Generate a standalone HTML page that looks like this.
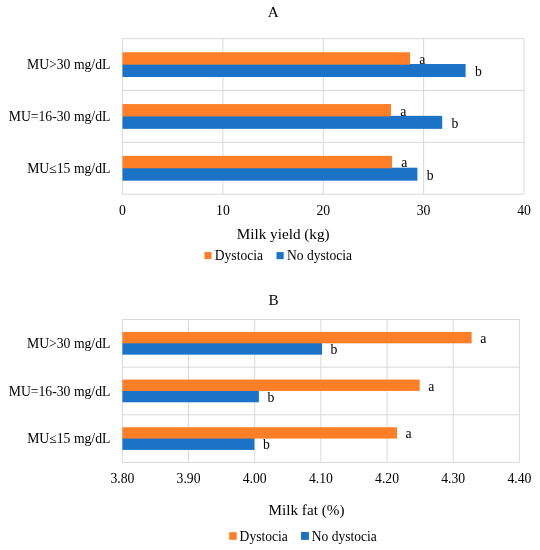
<!DOCTYPE html>
<html><head><meta charset="utf-8"><style>
html,body{margin:0;padding:0;background:#fff;width:540px;height:550px;overflow:hidden;}
svg{display:block;will-change:transform;}
text{font-family:"Liberation Serif",serif;fill:#000;font-size:13.7px;}
.lg{font-size:13.55px;}
</style></head><body>
<svg width="540" height="550" viewBox="0 0 540 550">
<rect width="540" height="550" fill="#fff"/>
<text x="273.3" y="16.9" style="font-size:15.2px" text-anchor="middle">A</text>
<line x1="222.88" y1="38.7" x2="222.88" y2="194.2" stroke="#D9D9D9" stroke-width="1"/>
<line x1="323.25" y1="38.7" x2="323.25" y2="194.2" stroke="#D9D9D9" stroke-width="1"/>
<line x1="423.62" y1="38.7" x2="423.62" y2="194.2" stroke="#D9D9D9" stroke-width="1"/>
<line x1="122.5" y1="90.53" x2="524.0" y2="90.53" stroke="#D9D9D9" stroke-width="1"/>
<line x1="122.5" y1="142.37" x2="524.0" y2="142.37" stroke="#D9D9D9" stroke-width="1"/>
<rect x="122.5" y="38.7" width="401.50" height="155.50" fill="none" stroke="#D9D9D9" stroke-width="1"/>
<text x="122.50" y="214.5" text-anchor="middle">0</text>
<text x="222.88" y="214.5" text-anchor="middle">10</text>
<text x="323.25" y="214.5" text-anchor="middle">20</text>
<text x="423.62" y="214.5" text-anchor="middle">30</text>
<text x="524.00" y="214.5" text-anchor="middle">40</text>
<rect x="122.5" y="64.02" width="343.08" height="13.00" fill="#1B73C8"/>
<rect x="122.5" y="52.22" width="287.57" height="12.4" fill="#FE7F27"/>
<text x="419.37" y="63.72">a</text>
<text x="474.88" y="76.02">b</text>
<rect x="122.5" y="115.85" width="319.69" height="13.00" fill="#1B73C8"/>
<rect x="122.5" y="104.05" width="268.50" height="12.4" fill="#FE7F27"/>
<text x="400.30" y="115.55">a</text>
<text x="451.49" y="127.85">b</text>
<rect x="122.5" y="167.68" width="294.90" height="13.00" fill="#1B73C8"/>
<rect x="122.5" y="155.88" width="269.51" height="12.4" fill="#FE7F27"/>
<text x="401.31" y="167.38">a</text>
<text x="426.70" y="179.68">b</text>
<text x="110.4" y="69.22" text-anchor="end">MU&gt;30 mg/dL</text>
<text x="110.4" y="121.05" text-anchor="end">MU=16-30 mg/dL</text>
<text x="110.4" y="172.88" text-anchor="end">MU≤15 mg/dL</text>
<text x="283.2" y="238.5" style="font-size:15.2px" text-anchor="middle">Milk yield (kg)</text>
<rect x="204.4" y="252" width="7.1" height="7.1" fill="#FE7F27"/>
<text x="214.8" y="259.8" class="lg">Dystocia</text>
<rect x="276.5" y="252.1" width="7.2" height="7.1" fill="#1B73C8"/>
<text x="287" y="259.8" class="lg">No dystocia</text>
<text x="273.5" y="304.6" style="font-size:15.2px" text-anchor="middle">B</text>
<line x1="188.57" y1="319.5" x2="188.57" y2="462.4" stroke="#D9D9D9" stroke-width="1"/>
<line x1="254.73" y1="319.5" x2="254.73" y2="462.4" stroke="#D9D9D9" stroke-width="1"/>
<line x1="320.90" y1="319.5" x2="320.90" y2="462.4" stroke="#D9D9D9" stroke-width="1"/>
<line x1="387.07" y1="319.5" x2="387.07" y2="462.4" stroke="#D9D9D9" stroke-width="1"/>
<line x1="453.23" y1="319.5" x2="453.23" y2="462.4" stroke="#D9D9D9" stroke-width="1"/>
<line x1="122.4" y1="367.13" x2="519.4" y2="367.13" stroke="#D9D9D9" stroke-width="1"/>
<line x1="122.4" y1="414.77" x2="519.4" y2="414.77" stroke="#D9D9D9" stroke-width="1"/>
<rect x="122.4" y="319.5" width="397.00" height="142.90" fill="none" stroke="#D9D9D9" stroke-width="1"/>
<text x="122.40" y="483.2" text-anchor="middle">3.80</text>
<text x="188.57" y="483.2" text-anchor="middle">3.90</text>
<text x="254.73" y="483.2" text-anchor="middle">4.00</text>
<text x="320.90" y="483.2" text-anchor="middle">4.10</text>
<text x="387.07" y="483.2" text-anchor="middle">4.20</text>
<text x="453.23" y="483.2" text-anchor="middle">4.30</text>
<text x="519.40" y="483.2" text-anchor="middle">4.40</text>
<rect x="122.4" y="342.72" width="199.62" height="11.95" fill="#1B73C8"/>
<rect x="122.4" y="331.97" width="349.23" height="11.35" fill="#FE7F27"/>
<text x="480.23" y="342.94">a</text>
<text x="330.62" y="354.19">b</text>
<rect x="122.4" y="390.35" width="136.50" height="11.95" fill="#1B73C8"/>
<rect x="122.4" y="379.60" width="297.29" height="11.35" fill="#FE7F27"/>
<text x="428.29" y="390.57">a</text>
<text x="267.50" y="401.82">b</text>
<rect x="122.4" y="437.98" width="132.00" height="11.95" fill="#1B73C8"/>
<rect x="122.4" y="427.23" width="274.59" height="11.35" fill="#FE7F27"/>
<text x="405.59" y="438.21">a</text>
<text x="263.00" y="449.46">b</text>
<text x="110.4" y="348.22" text-anchor="end">MU&gt;30 mg/dL</text>
<text x="110.4" y="395.85" text-anchor="end">MU=16-30 mg/dL</text>
<text x="110.4" y="443.48" text-anchor="end">MU≤15 mg/dL</text>
<text x="306.5" y="514.8" style="font-size:15.2px" text-anchor="middle">Milk fat (%)</text>
<rect x="229.2" y="532.2" width="7.5" height="7.6" fill="#FE7F27"/>
<text x="239.6" y="540.6" class="lg">Dystocia</text>
<rect x="301" y="532" width="7.9" height="7.9" fill="#1B73C8"/>
<text x="311.7" y="540.6" class="lg">No dystocia</text>
</svg>
</body></html>
